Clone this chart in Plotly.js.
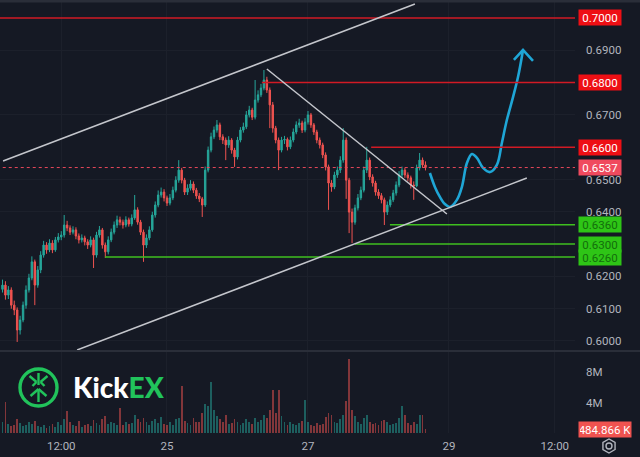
<!DOCTYPE html>
<html><head><meta charset="utf-8">
<script src="https://cdn.plot.ly/plotly-3.0.1.min.js"></script>
<style>html,body{margin:0;padding:0;background:#151924;}#chart{width:640px;height:457px;}</style>
</head><body><div id="chart"></div>
<script>
// ---- time base: hours relative to day "25" 00:00 ----
const BASE = Date.UTC(2023, 10, 25, 0, 0);
const FIRST_CANDLE_HOUR = -56; // 22nd 16:00, hourly candles

// ---- candles (price in 0.0001 units) ----
const firstOpenPips = 6160;
const closePips = [6173,6142,6158,6111,6096,6034,6065,6111,6158,6195,
 6245,6173,6220,6266,6297,6282,6303,6282,6313,6322,
 6328,6359,6350,6337,6344,6325,6313,6319,6307,6297,
 6313,6266,6328,6344,6297,6276,6313,6337,6359,6375,
 6368,6359,6375,6362,6381,6406,6368,6337,6297,6319,
 6344,6390,6421,6452,6461,6443,6427,6443,6467,6498,
 6529,6498,6461,6473,6486,6467,6449,6440,6421,6529,
 6591,6632,6653,6669,6632,6622,6607,6622,6591,6570,
 6622,6653,6663,6700,6715,6693,6746,6762,6783,6808,
 6777,6731,6659,6622,6591,6622,6624,6601,6622,6647,
 6669,6675,6653,6678,6700,6669,6647,6622,6607,6576,
 6539,6489,6477,6514,6529,6560,6622,6498,6399,6368,
 6412,6443,6467,6529,6560,6508,6489,6461,6450,6437,
 6399,6421,6437,6458,6483,6514,6529,6514,6505,6483,
 6480,6536,6560,6545,6537];
const highPips = [6190,6185,6170,6166,6125,6104,6078,6122,6172,6208,
 6262,6252,6232,6278,6310,6306,6315,6312,6322,6334,
 6340,6390,6372,6358,6355,6352,6333,6330,6326,6315,
 6324,6320,6338,6356,6350,6305,6324,6348,6370,6388,
 6385,6376,6386,6382,6392,6452,6414,6375,6345,6330,
 6355,6400,6432,6466,6475,6470,6450,6455,6478,6510,
 6560,6536,6505,6485,6498,6494,6474,6458,6446,6540,
 6602,6645,6664,6684,6676,6640,6630,6634,6628,6598,
 6632,6662,6676,6712,6728,6722,6808,6776,6796,6839,
 6818,6785,6740,6666,6630,6632,6635,6630,6633,6658,
 6680,6688,6682,6690,6712,6706,6675,6654,6630,6614,
 6584,6546,6498,6524,6540,6572,6659,6630,6505,6410,
 6422,6455,6478,6540,6601,6568,6516,6496,6470,6458,
 6444,6432,6448,6468,6494,6526,6540,6536,6522,6512,
 6494,6546,6582,6568,6556];
const lowPips = [6150,6128,6130,6100,6080,5997,6020,6058,6100,6150,
 6188,6111,6165,6210,6258,6270,6275,6272,6276,6305,
 6312,6320,6340,6328,6330,6315,6302,6305,6296,6285,
 6290,6226,6258,6320,6286,6257,6268,6306,6330,6350,
 6358,6348,6352,6354,6355,6375,6360,6328,6245,6288,
 6312,6338,6382,6414,6444,6432,6418,6420,6436,6460,
 6490,6488,6452,6452,6466,6458,6440,6430,6384,6415,
 6522,6584,6625,6645,6622,6610,6560,6598,6580,6539,
 6562,6615,6645,6656,6692,6684,6686,6738,6755,6776,
 6768,6659,6645,6612,6529,6584,6610,6590,6594,6615,
 6640,6660,6644,6646,6670,6660,6638,6612,6596,6566,
 6528,6406,6462,6470,6505,6520,6552,6440,6334,6303,
 6360,6404,6436,6460,6520,6498,6478,6450,6440,6426,
 6359,6390,6414,6430,6450,6476,6506,6505,6494,6472,
 6437,6476,6528,6536,6528];

// ---- volume (thousands) ----
const volumeK = [1500,4000,1200,900,1100,1800,1300,900,1000,1400,
 1200,1600,900,800,1100,700,900,1200,800,1500,
 1000,1800,2900,1400,1000,900,1600,800,1100,1200,
 900,1700,1300,1000,1900,2200,1200,1500,1300,1100,
 3300,1000,1400,1200,1300,2400,1800,1500,2000,1400,
 1100,1600,1900,1300,2100,1200,1000,1400,1100,1800,
 2000,6200,1600,1300,1100,2000,1400,1500,2600,3800,
 3500,6700,3000,2200,1800,1500,2400,1200,1300,1900,
 1500,1100,1300,1800,1400,1200,2000,1500,1700,2300,
 2000,3000,5600,2600,5600,2200,1400,1100,1500,1200,
 1000,1300,1600,4300,1400,1100,900,1300,1000,1200,
 2100,2600,2300,1500,1300,1800,2300,4200,9700,3000,
 2200,1400,1200,2000,2400,1500,1200,1300,1100,1600,
 1700,1400,1000,1200,1300,2000,3600,2400,1300,1100,
 1500,1200,2400,2400,484.866];

// ---- axes (ticks hidden under the level tags are left out) ----
const priceTicks = [0.60,0.61,0.62,0.64,0.65,0.67,0.69];
const volumeTicks = [4000000, 8000000];
const volumeTickText = ['4M', '8M'];
const xTickHours = [-36, 0, 48, 96, 132];
const xTickLabels = ['12:00', '25', '27', '29', '12:00'];

// ---- drawn levels ----
const resistancePrices = [0.7000, 0.6800, 0.6600];
const resistanceStartHours = [-60, 32.3, 69.5];
const supportPrices = [0.6360, 0.6300, 0.6260];
const supportStartHours = [75.9, 64.0, -21.1];
const lastPrice = 0.6537;

// ---- trend lines [hour0, price0, hour1, price1] ----
const channelUpper = [-55.8, 0.65573, 84.4, 0.70433];
const channelLower = [-30.6, 0.59721, 122.5, 0.65046];
const fallingLine = [34.0, 0.68421, 95.3, 0.63932];

// ---- projected path ----
const projHours = [89.5, 91.2, 92.9, 94.6, 96.3, 98.7, 100.4, 102.1, 103.8, 105.5, 107.6, 110.0, 112.3, 114.0, 115.7, 117.8, 119.5, 121.2];
const projPrice = [0.6520, 0.6477, 0.6446, 0.6424, 0.6415, 0.6437, 0.6477, 0.6551, 0.6579, 0.6567, 0.6536, 0.6523, 0.6545, 0.6613, 0.6684, 0.6755, 0.6817, 0.6901];
const arrowHours = [118.1, 121.2, 124.6];
const arrowPrice = [0.6870, 0.6901, 0.6867];

// ---------------------------------------------------------------
function h2d(h){ return new Date(BASE + h*3600000).toISOString().slice(0,19).replace('T',' '); }
const P = v => v/10000;
const times = closePips.map((_, i) => h2d(FIRST_CANDLE_HOUR + i));
const close = closePips.map(P), high = highPips.map(P), low = lowPips.map(P);
const open = closePips.map((_, i) => i === 0 ? P(firstOpenPips) : P(closePips[i-1]));
const vol = volumeK.map(v => v*1000);
const UP = '#26a69a', DN = '#ef5350';
const volColors = close.map((c, i) => c >= open[i] ? 'rgba(38,166,154,0.5)' : 'rgba(239,83,80,0.5)');

const W = 575, H = 433; // plot area in px
const px = x => x / W, py = y => (H - y) / H;

const traces = [
  {type:'bar', x:times, y:vol, xaxis:'x', yaxis:'y2', marker:{color:volColors, line:{width:0}},
   width:3600000*0.62, hoverinfo:'skip', showlegend:false},
  {type:'candlestick', x:times, open:open, high:high, low:low, close:close, xaxis:'x', yaxis:'y',
   increasing:{line:{color:UP, width:1}, fillcolor:UP},
   decreasing:{line:{color:DN, width:1}, fillcolor:DN},
   whiskerwidth:0, hoverinfo:'skip', showlegend:false},
  {type:'scatter', mode:'lines', x:projHours.map(h2d), y:projPrice, xaxis:'x', yaxis:'y',
   line:{color:'#1fa6d6', width:2.6, shape:'spline', smoothing:1}, hoverinfo:'skip', showlegend:false},
  {type:'scatter', mode:'lines', x:arrowHours.map(h2d), y:arrowPrice, xaxis:'x', yaxis:'y',
   line:{color:'#1fa6d6', width:2.6}, hoverinfo:'skip', showlegend:false}
];

const shapes = [];
const xEnd = h2d(150);
resistancePrices.forEach((p, i) => shapes.push({type:'line', xref:'x', yref:'y', x0:h2d(resistanceStartHours[i]), x1:xEnd, y0:p, y1:p, line:{color:'#d11a24', width:1.5}}));
supportPrices.forEach((p, i) => shapes.push({type:'line', xref:'x', yref:'y', x0:h2d(supportStartHours[i]), x1:xEnd, y0:p, y1:p, line:{color:'#3fbf1f', width:1.5}}));
shapes.push({type:'line', xref:'x', yref:'y', x0:h2d(-60), x1:xEnd, y0:lastPrice, y1:lastPrice, line:{color:'#e8485a', width:1, dash:'dot'}});
[channelUpper, channelLower, fallingLine].forEach(l => shapes.push({type:'line', xref:'x', yref:'y', x0:h2d(l[0]), y0:l[1], x1:h2d(l[2]), y1:l[3], line:{color:'#c4c6cc', width:1.5}}));
// panel frame bits
shapes.push({type:'rect', xref:'paper', yref:'paper', x0:0, x1:px(640), y0:py(2.5), y1:py(-2), line:{width:0}, fillcolor:'#2a2e39', layer:'above'});
shapes.push({type:'line', xref:'paper', yref:'paper', x0:0, x1:px(640), y0:py(351), y1:py(351), line:{color:'#2a2e39', width:2}});
// logo ring + glyph
const G = '#21c35b';
shapes.push({type:'circle', xref:'paper', yref:'paper', x0:px(20), x1:px(57), y0:py(406), y1:py(369), line:{color:G, width:3.4}});
const seg = (a,b,c,d) => shapes.push({type:'line', xref:'paper', yref:'paper', x0:px(a), y0:py(b), x1:px(c), y1:py(d), line:{color:G, width:2.4}});
seg(38.5,389,38.5,402); seg(30.5,396,38.5,389); seg(46.5,396,38.5,389);
seg(38.5,373,38.5,385); seg(29.5,376,36.5,382); seg(47.5,376,40.5,382); seg(32.5,386,36.5,382); seg(44.5,386,40.5,382);
// settings gear (hexagon)
let hex = '';
for (let k = 0; k < 6; k++) { const a = Math.PI/6 + k*Math.PI/3; const X = 609 + 7*Math.cos(a), Y = 446 + 7*Math.sin(a); hex += (k===0?'M':'L') + px(X).toFixed(5) + ',' + py(Y).toFixed(5); }
shapes.push({type:'path', xref:'paper', yref:'paper', path:hex + 'Z', line:{color:'#b2b5be', width:1.4}});
shapes.push({type:'circle', xref:'paper', yref:'paper', x0:px(606), x1:px(612), y0:py(449), y1:py(443), line:{color:'#b2b5be', width:1.4}});

const annotations = [];
const tag = (y, yref, text, bg, color, w) => annotations.push({xref:'paper', x:1, xanchor:'left', xshift:3, yref:yref, y:y, yanchor:'middle', text:text, showarrow:false, bgcolor:bg, font:{color:color, size:11.5, family:'Roboto'}, width:w, height:13, borderpad:1, align:'center'});
resistancePrices.forEach(p => tag(p, 'y', p.toFixed(4), '#ee0f14', '#ffffff', 40));
supportPrices.forEach(p => tag(p, 'y', p.toFixed(4), '#2ec516', '#136e0c', 40));
tag(lastPrice, 'y', lastPrice.toFixed(4), '#f04a5e', '#ffffff', 40);
tag(vol[vol.length-1], 'y2', (vol[vol.length-1]/1000).toFixed(3) + ' K', '#ef5350', '#ffffff', 50);
annotations.push({xref:'paper', yref:'paper', x:px(71), y:py(387), xanchor:'left', yanchor:'middle', showarrow:false,
  text:'Kick<span style="color:#21c35b">EX</span>', font:{family:'Lato', size:28, color:'#ffffff', weight:900}});

const gridC = '#1c202b';
const layout = {
  width:640, height:457, margin:{l:0, r:65, t:0, b:24},
  paper_bgcolor:'#151924', plot_bgcolor:'#151924', showlegend:false, hovermode:false,
  font:{family:'Roboto', size:11.5, color:'#b2b5be'},
  xaxis:{type:'date', anchor:'y2', range:[h2d(-56.85), h2d(138.9)], tickvals:xTickHours.map(h2d), ticktext:xTickLabels,
    showgrid:true, gridcolor:gridC, zeroline:false, showline:false, ticks:'', ticklabelstandoff:4,
    rangeslider:{visible:false}, tickfont:{size:11.5, color:'#b2b5be'}},
  yaxis:{domain:[py(350), 1], range:[0.59721, 0.70557], side:'right', tickvals:priceTicks, tickformat:'.4f',
    showgrid:true, gridcolor:gridC, zeroline:false, showline:false, ticks:'', ticklabelstandoff:10},
  yaxis2:{domain:[0, py(352)], range:[0, 10620000], side:'right', tickvals:volumeTicks, ticktext:volumeTickText,
    showgrid:false, zeroline:false, showline:false, ticks:'', ticklabelstandoff:10},
  shapes:shapes, annotations:annotations, bargap:0
};
Plotly.newPlot('chart', traces, layout, {staticPlot:true, displayModeBar:false});
</script></body></html>
